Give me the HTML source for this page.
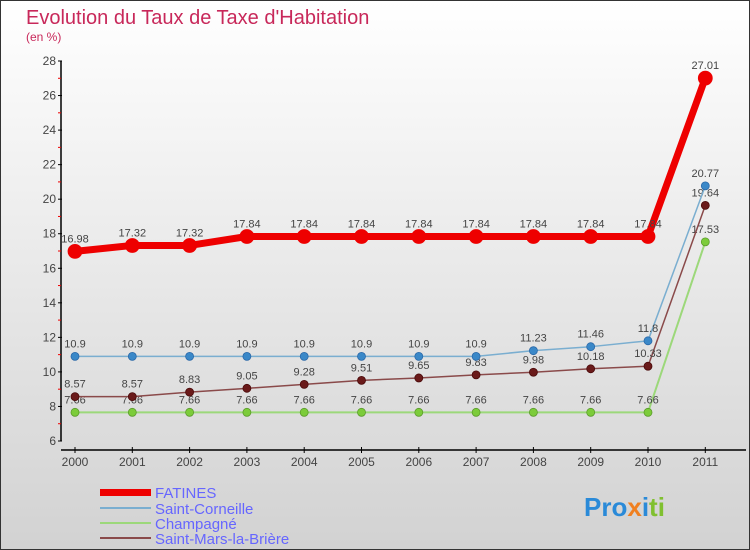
<!DOCTYPE html>
<html><head><meta charset="utf-8"><style>
body{margin:0}
#c{width:750px;height:550px;position:relative;overflow:hidden;box-sizing:border-box;border:1px solid #333;background:linear-gradient(#ffffff,#d2d2d2);font-family:"Liberation Sans",sans-serif}
</style></head><body>
<div id="c">
<svg id="s" width="750" height="550" style="position:absolute;left:-1px;top:-1px">
<text x="26" y="24" font-size="20" fill="#c8285a">Evolution du Taux de Taxe d'Habitation</text>
<text x="26" y="41" font-size="12" fill="#c8285a">(en %)</text>
<g id="axes"></g><g id="series"></g>
<g font-size="15" fill="#6666ff">
<rect x="100" y="489" width="51" height="7" fill="#ee0000"/>
<text x="155" y="498">FATINES</text>
<rect x="100" y="507" width="51" height="2" fill="#7aaed0"/>
<text x="155" y="514">Saint-Corneille</text>
<rect x="100" y="522" width="51" height="2" fill="#9cd87a"/>
<text x="155" y="529">Champagné</text>
<rect x="100" y="537" width="51" height="2" fill="#8a4a4a"/>
<text x="155" y="544">Saint-Mars-la-Brière</text>
</g>
<g font-size="26" font-weight="bold">
<text x="584" y="516"><tspan fill="#2a8ad8">Pro</tspan><tspan fill="#f08020">x</tspan><tspan fill="#2a8ad8">i</tspan><tspan fill="#80c030">ti</tspan></text>
</g>
</svg>
</div>
<script>
const years=[2000,2001,2002,2003,2004,2005,2006,2007,2008,2009,2010,2011];
const yTicks=[6,8,10,12,14,16,18,20,22,24,26,28];
const fatines=[16.98,17.32,17.32,17.84,17.84,17.84,17.84,17.84,17.84,17.84,17.84,27.01];
const corneille=[10.9,10.9,10.9,10.9,10.9,10.9,10.9,10.9,11.23,11.46,11.8,20.77];
const champagne=[7.66,7.66,7.66,7.66,7.66,7.66,7.66,7.66,7.66,7.66,7.66,17.53];
const mars=[8.57,8.57,8.83,9.05,9.28,9.51,9.65,9.83,9.98,10.18,10.33,19.64];
const NS="http://www.w3.org/2000/svg";
function X(i){return 75+i*57.3}
function Y(v){return 441-(v-6)*(380/22)}
function mk(t,a,p){const e=document.createElementNS(NS,t);for(const k in a)e.setAttribute(k,a[k]);p.appendChild(e);return e}
const ax=document.getElementById('axes');
let yl=mk('line',{x1:61,y1:Y(28),x2:61,y2:Y(6),stroke:'#000','stroke-width':1.5},ax);


let xl=mk('line',{x1:61,y1:450,x2:746,y2:450,stroke:'#000','stroke-width':1.5},ax);


yTicks.forEach(v=>{
 mk('line',{x1:58,y1:Y(v),x2:62,y2:Y(v),stroke:'#000'},ax);
 if(v<28)mk('line',{x1:58,y1:Y(v+1),x2:61,y2:Y(v+1),stroke:'#e00'},ax);
 const t=mk('text',{x:56,y:Y(v)+4,'text-anchor':'end','font-size':12,fill:'#444'},ax);t.textContent=v;
 
 
});
years.forEach((yr,i)=>{
 mk('line',{x1:X(i),y1:447,x2:X(i),y2:453,stroke:'#000'},ax);
 const t=mk('text',{x:X(i),y:466,'text-anchor':'middle','font-size':12,fill:'#444'},ax);t.textContent=yr;
 
 
});
const sg=document.getElementById('series');
function series(d,name,col,w,r,dot,stroke){
 const g=mk('g',{},sg);
 
 
 mk('polyline',{points:d.map((v,i)=>X(i)+','+Y(v)).join(' '),fill:'none',stroke:col,'stroke-width':w,'stroke-linejoin':'round'},g);
 d.forEach((v,i)=>{
  const c=mk('circle',{cx:X(i),cy:Y(v),r:r,fill:dot,stroke:stroke,'stroke-width':0.8},g);
  
  
  const t=mk('text',{x:X(i),y:Y(v)-9,'text-anchor':'middle','font-size':11,fill:'#444'},g);t.textContent=v;
  
  
 });
}
series(champagne,'champagne','#9cd87a',2,4,'#7ccc3a','#5a9a2a');
series(mars,'saint-mars','#8a4a4a',1.5,4,'#6a1a1a','#4a0a0a');
series(corneille,'saint-corneille','#7aaed0',1.5,4,'#3a88c8','#2a68a8');
series(fatines,'fatines','#ee0000',7,7,'#ee0000','#ee0000');
</script>
</body></html>
